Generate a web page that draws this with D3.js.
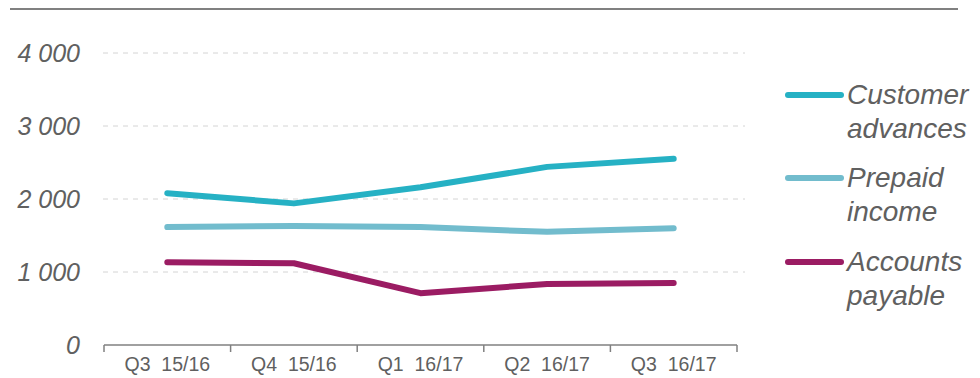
<!DOCTYPE html>
<head>
<meta charset="utf-8" />
</head>
<style>
body { margin: 0; background: #fff; font-family: "Liberation Sans", Arial, sans-serif; }
svg { display: block; }
.ylab { font-size: 25px; font-style: italic; fill: #606060; }
.xlab { font-size: 19.5px; fill: #606060; }
.leg { font-size: 28px; font-style: italic; fill: #606060; }
</style>
<body>
<script src="https://cdn.jsdelivr.net/npm/d3@7/dist/d3.min.js"></script>
<script>
var quarters = ["Q3 15/16", "Q4 15/16", "Q1 16/17", "Q2 16/17", "Q3 16/17"];
var customerAdvances = [2080, 1940, 2160, 2440, 2550];
var prepaidIncome = [1615, 1630, 1615, 1550, 1600];
var accountsPayable = [1135, 1120, 710, 835, 850];
var yTicks = [0, 1000, 2000, 3000, 4000];
var seriesNames = [["Customer", "advances"], ["Prepaid", "income"], ["Accounts", "payable"]];
var seriesColors = ["#26b1c4", "#72bccd", "#9b1c63"];

var width = 980, height = 378;
var svg = d3.select("body").append("svg")
	.attr("width", width)
	.attr("height", height);

var x = d3.scaleBand().domain(quarters).range([104, 737]).padding(0);
var y = d3.scaleLinear().domain([0, 4000]).range([345, 53]);

// top rule
svg.append("line")
	.attr("x1", 10).attr("x2", 958)
	.attr("y1", 9).attr("y2", 9)
	.attr("stroke", "#808080").attr("stroke-width", 2);

// gridlines
svg.append("g").selectAll("line")
	.data(yTicks.filter(function(d) { return d > 0; }))
	.enter().append("line")
	.attr("x1", 103).attr("x2", 745)
	.attr("y1", function(d) { return y(d); })
	.attr("y2", function(d) { return y(d); })
	.attr("stroke", "#d4d4d4")
	.attr("stroke-width", 1)
	.attr("stroke-dasharray", "5,5");

// y labels
svg.append("g").selectAll("text")
	.data(yTicks)
	.enter().append("text")
	.attr("class", "ylab")
	.attr("x", 80)
	.attr("y", function(d) { return y(d); })
	.attr("dy", "0.35em")
	.attr("text-anchor", "end")
	.text(function(d) { return d3.format(",")(d).replace(",", " "); });

// x axis
var xAxis = svg.append("g")
	.attr("transform", "translate(0," + y(0) + ")")
	.call(d3.axisBottom(x).tickSize(0).tickPadding(11));
xAxis.select(".domain").attr("stroke", "#808080").attr("stroke-width", 1.5)
	.attr("d", "M" + x.range()[0] + ",0H" + x.range()[1]);
xAxis.selectAll("text").attr("class", "xlab").style("font-family", null).attr("font-size", null)
	.attr("fill", null).attr("dy", "0.75em")
	.attr("xml:space", "preserve")
	.text(function(d) { return d.replace(" ", "  "); });
var bounds = quarters.map(function(d) { return x(d); }).concat([x.range()[1]]);
xAxis.selectAll(".bound")
	.data(bounds)
	.enter().append("line")
	.attr("class", "bound")
	.attr("x1", function(d) { return d; }).attr("x2", function(d) { return d; })
	.attr("y1", 0).attr("y2", 7)
	.attr("stroke", "#808080").attr("stroke-width", 1.5);

// lines
var series = [customerAdvances, prepaidIncome, accountsPayable];
var line = d3.line()
	.x(function(d, i) { return x(quarters[i]) + x.bandwidth() / 2; })
	.y(function(d) { return y(d); });

svg.append("g").selectAll("path")
	.data(series)
	.enter().append("path")
	.attr("d", line)
	.attr("fill", "none")
	.attr("stroke", function(d, i) { return seriesColors[i]; })
	.attr("stroke-width", 6)
	.attr("stroke-linecap", "round")
	.attr("stroke-linejoin", "round");

// legend
var legY = [95, 178, 262];
var leg = svg.append("g").selectAll("g")
	.data(seriesNames)
	.enter().append("g")
	.attr("transform", function(d, i) { return "translate(0," + legY[i] + ")"; });
leg.append("line")
	.attr("x1", 788).attr("x2", 841)
	.attr("y1", 0).attr("y2", 0)
	.attr("stroke", function(d, i) { return seriesColors[i]; })
	.attr("stroke-width", 6)
	.attr("stroke-linecap", "round");
leg.append("text")
	.attr("class", "leg")
	.attr("x", 847)
	.attr("y", 9)
	.text(function(d) { return d[0]; });
leg.append("text")
	.attr("class", "leg")
	.attr("x", 847)
	.attr("y", 43)
	.text(function(d) { return d[1]; });
</script>
</body>
